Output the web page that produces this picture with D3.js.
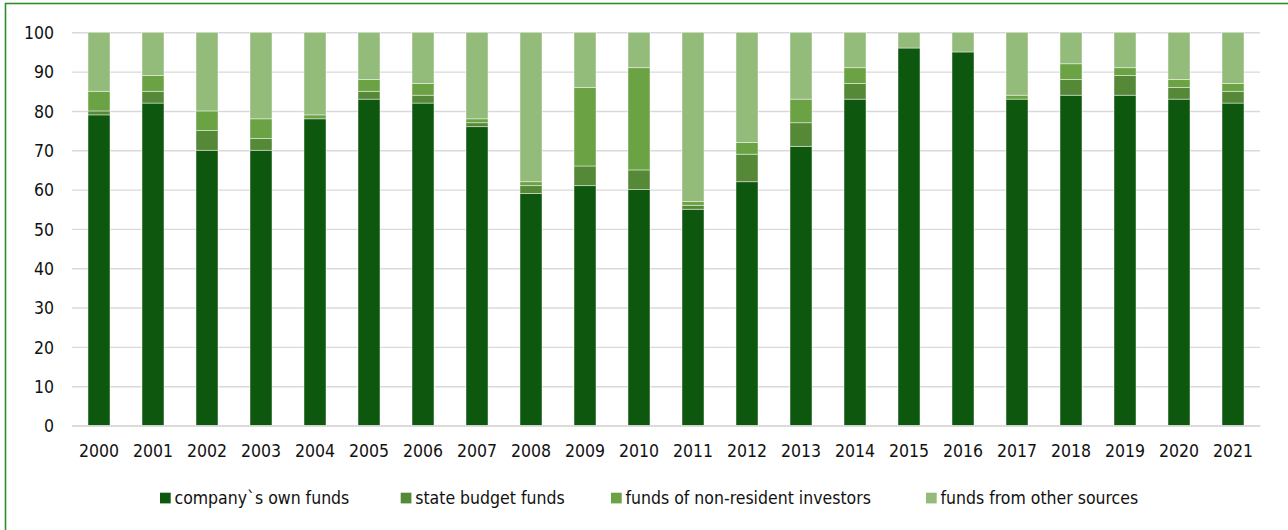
<!DOCTYPE html>
<html>
<head>
<meta charset="utf-8">
<script src="https://cdn.jsdelivr.net/npm/d3@7/dist/d3.min.js"></script>
<style>
  html, body { margin: 0; padding: 0; background: #fff; }
  svg { display: block; }
  text { font-family: 'DejaVu Sans Condensed', 'DejaVu Sans', sans-serif; font-stretch: condensed; fill: #111; }
</style>
</head>
<body>
<svg id="chart" width="1288" height="530"></svg>
<script>
// Structure of investment funding by source, % of total
const years = ["2000","2001","2002","2003","2004","2005","2006","2007","2008","2009","2010",
               "2011","2012","2013","2014","2015","2016","2017","2018","2019","2020","2021"];
const ownFunds      = [79, 82, 70, 70, 78, 83, 82, 76, 59, 61, 60, 55, 62, 71, 83, 96, 95, 83, 84, 84, 83, 82];
const stateBudget   = [ 1,  3,  5,  3,  0,  2,  2,  1,  2,  5,  5,  1,  7,  6,  4,  0,  0,  0,  4,  5,  3,  3];
const nonResident   = [ 5,  4,  5,  5,  1,  3,  3,  1,  1, 20, 26,  1,  3,  6,  4,  0,  0,  1,  4,  2,  2,  2];
const otherSources  = [15, 11, 20, 22, 21, 12, 13, 22, 38, 14,  9, 43, 28, 17,  9,  4,  5, 16,  8,  9, 12, 13];
const seriesNames   = ["company`s own funds", "state budget funds", "funds of non-resident investors", "funds from other sources"];
const yTicks        = [0, 10, 20, 30, 40, 50, 60, 70, 80, 90, 100];

const colors = ["#0e570e", "#558837", "#6aa244", "#93bb7a"];
const seriesValues = [ownFunds, stateBudget, nonResident, otherSources];

const rows = years.map((y, i) => {
  const r = { year: y };
  seriesNames.forEach((n, k) => r[n] = seriesValues[k][i]);
  return r;
});
const stacked = d3.stack().keys(seriesNames)(rows);

const svg = d3.select("#chart");
const plot = { left: 72, right: 1260, top: 32.3, bottom: 425.5 };

const x = d3.scaleBand()
  .domain(years)
  .range([plot.left, plot.right])
  .paddingInner(0.593)
  .paddingOuter(0.2965);

const y = d3.scaleLinear()
  .domain([0, 100])
  .range([plot.bottom, plot.top]);

// outer frame (top and left edges visible, the rest runs off the canvas)
svg.append("rect")
  .attr("x", 5.5).attr("y", 3.5)
  .attr("width", 1300).attr("height", 540)
  .attr("fill", "none")
  .attr("stroke", "#2f8f2f")
  .attr("stroke-width", 1.6);

// horizontal gridlines
const yAxis = d3.axisLeft(y).tickValues(yTicks).tickSize(-(plot.right - plot.left)).tickPadding(18);
const gy = svg.append("g")
  .attr("transform", `translate(${plot.left},0)`)
  .call(yAxis);
gy.select(".domain").remove();
gy.selectAll(".tick line").attr("stroke", "#d9d9d9").attr("stroke-width", 1.4);
gy.selectAll(".tick text")
  .attr("font-size", "17.5px")
  .attr("dy", "0.36em")
  .style("font-family", "'DejaVu Sans Condensed', 'DejaVu Sans', sans-serif");

// stacked bars
svg.append("g")
  .selectAll("g")
  .data(stacked)
  .join("g")
  .attr("fill", (d, i) => colors[i])
  .selectAll("rect")
  .data(d => d)
  .join("rect")
  .attr("x", d => x(d.data.year))
  .attr("width", x.bandwidth())
  .attr("y", d => y(d[1]))
  .attr("height", d => y(d[0]) - y(d[1]))
  .attr("stroke", "rgba(255,255,255,0.55)")
  .attr("stroke-width", 0.8);

// category axis
const xAxis = d3.axisBottom(x).tickSize(0).tickPadding(31);
const gx = svg.append("g")
  .attr("transform", `translate(0,${plot.bottom})`)
  .call(xAxis);
gx.select(".domain")
  .attr("stroke", "#d9d9d9")
  .attr("stroke-width", 1.4);
gx.selectAll(".tick text")
  .attr("font-size", "17.5px")
  .attr("dy", "0")
  .style("font-family", "'DejaVu Sans Condensed', 'DejaVu Sans', sans-serif");

// legend
const legendX = [160, 400.7, 611, 926];
const legend = svg.append("g");
seriesNames.forEach((name, i) => {
  const g = legend.append("g").attr("transform", `translate(${legendX[i]},492.7)`);
  g.append("rect").attr("width", 10.7).attr("height", 10.7).attr("fill", colors[i]);
  g.append("text")
    .attr("x", 14.5)
    .attr("y", 11.5)
    .attr("font-size", "17.5px")
    .text(name);
});
</script>
</body>
</html>
